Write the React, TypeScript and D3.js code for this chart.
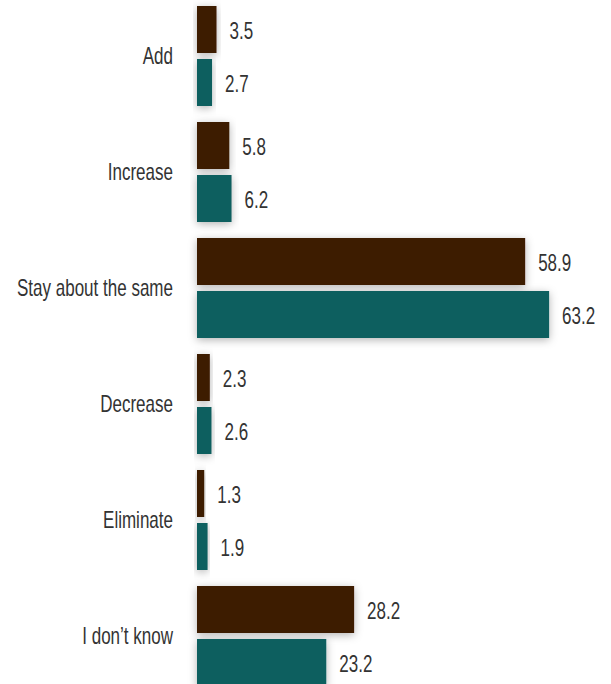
import React from "react";
import * as d3 from "d3";

const categories = ["Add", "Increase", "Stay about the same", "Decrease", "Eliminate", "I don\u2019t know"];
const seriesNames = ["Series 1", "Series 2"];
const series1 = [3.5, 5.8, 58.9, 2.3, 1.3, 28.2];
const series2 = [2.7, 6.2, 63.2, 2.6, 1.9, 23.2];
const colors = ["#3c1d00", "#0f5f5f"];

const W = 611;
const H = 684;
const FONT = "'Liberation Sans', Arial, sans-serif";
const SX = 0.74;

function NarrowText(props: { x: number; y: number; anchor?: string; children: React.ReactNode }) {
  return (
    <g transform={`translate(${props.x},${props.y}) scale(${SX},1)`}>
      <text x={0} y={0} textAnchor={props.anchor || "start"} fontSize={23} fill="#333">
        {props.children}
      </text>
    </g>
  );
}

export default function App() {
  const x = d3.scaleLinear().domain([0, 70]).range([197, 587]);
  const y = d3
    .scaleBand<string>()
    .domain(categories)
    .range([6, 686])
    .paddingInner(16 / 116)
    .paddingOuter(0);
  const inner = d3
    .scaleBand<string>()
    .domain(seriesNames)
    .range([0, y.bandwidth()])
    .paddingInner(6 / 53)
    .paddingOuter(0);
  const values = [series1, series2];

  return (
    <svg
      width={W}
      height={H}
      style={{ position: "absolute", left: 0, top: 0, background: "#fff" }}
      fontFamily={FONT}
    >
      <defs>
        <filter id="shadow" x="-20%" y="-40%" width="140%" height="180%">
          <feDropShadow dx="0" dy="2" stdDeviation="4" floodColor="#000" floodOpacity="0.3" />
        </filter>
      </defs>
      {categories.map((c, i) => (
        <g key={c}>
          <NarrowText x={173} y={(y(c) ?? 0) + y.bandwidth() / 2 + 8} anchor="end">
            {c}
          </NarrowText>
          {seriesNames.map((s, j) => {
            const v = values[j][i];
            const by = (y(c) ?? 0) + (inner(s) ?? 0);
            const bh = inner.bandwidth();
            return (
              <g key={s}>
                <rect
                  x={x(0)}
                  y={by}
                  width={x(v) - x(0)}
                  height={bh}
                  fill={colors[j]}
                  filter="url(#shadow)"
                />
                <NarrowText x={x(v) + 13} y={by + bh / 2 + 9}>
                  {v.toFixed(1)}
                </NarrowText>
              </g>
            );
          })}
        </g>
      ))}
    </svg>
  );
}
